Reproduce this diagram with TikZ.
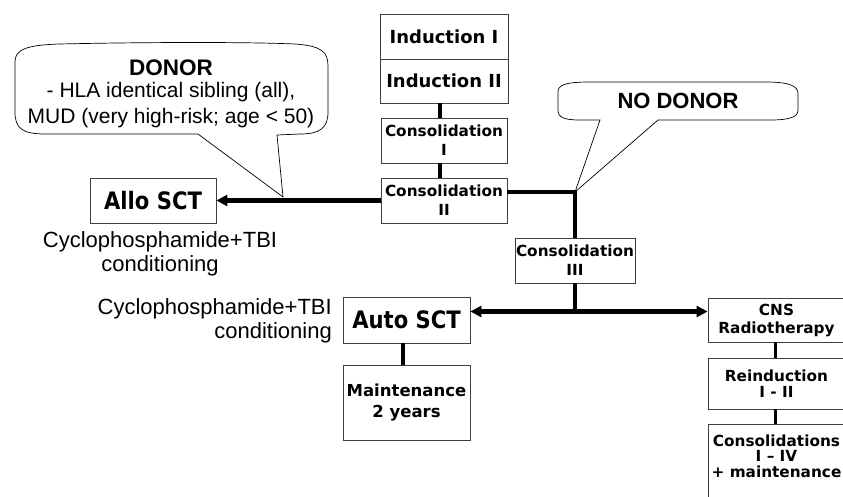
\documentclass[tikz,border=0pt]{standalone}
\usepackage{fontspec}
\setmainfont{Liberation Sans}
\newfontfamily\boxfont{DejaVu Sans}
\newfontfamily\boxcond{DejaVu Sans}[FakeStretch=0.88]
\usetikzlibrary{arrows.meta}
\begin{document}
\begin{tikzpicture}[x=1pt,y=-1pt,
  stage/.style={draw=black!75, line width=0.8pt, fill=white, inner sep=0pt, align=center,
    font=\boxfont\bfseries\fontsize{15.3}{19}\selectfont},
  link/.style={line width=4.5pt},
  thinlink/.style={line width=3pt},
  arr/.style={line width=4.5pt, -{Triangle[length=11pt,width=11pt]}},
  callout/.style={draw=black, line width=0.7pt, fill=white},
  note/.style={inner sep=0pt, font=\fontsize{22}{24}\selectfont}
]
\useasboundingbox (0,0) rectangle (843,497);
\fill[white] (0,0) rectangle (843,497);

% callouts
\draw[callout] (198,134) -- (45,134) .. controls (22,134) and (15,128) .. (15,112)
  -- (15,62) .. controls (15,50) and (25,45) .. (60,44)
  .. controls (150,42) and (250,42) .. (295,44)
  .. controls (322,46) and (328,52) .. (328,66)
  -- (328,112) .. controls (328,128) and (320,134) .. (300,134)
  -- (277,135) -- (283,197) -- cycle;
\node[inner sep=0pt, align=center, anchor=north, font=\fontsize{21}{26}\selectfont] (donortext) at (171,60)
  {{\fontsize{22.5}{24}\selectfont\bfseries DONOR}\\[-4pt]- HLA identical sibling (all),\\MUD (very high-risk; age < 50)};

\draw[callout] (600,120) -- (580,120) .. controls (563,120) and (558,117) .. (558,110)
  -- (558,92) .. controls (558,85) and (565,82) .. (590,82)
  -- (765,82) .. controls (790,82) and (798,86) .. (798,94)
  -- (798,110) .. controls (798,117) and (790,120) .. (770,120)
  -- (658,120) -- (575,192) -- cycle;
\node[inner sep=0pt, font=\fontsize{22}{24}\selectfont\bfseries] (nodonortext) at (678,101) {NO DONOR};

% stages
\node[stage, minimum width=128, minimum height=45, font=\boxfont\bfseries\fontsize{18}{20}\selectfont] (ind1) at (444,36.5) {Induction I};
\node[stage, minimum width=128, minimum height=44, font=\boxfont\bfseries\fontsize{18}{20}\selectfont] (ind2) at (444,81) {Induction II};
\node[stage, minimum width=126, minimum height=45] (cons1) at (444,140.5) {Consolidation\\I};
\node[stage, minimum width=126, minimum height=45] (cons2) at (444,200.5) {Consolidation\\II};
\node[stage, minimum width=120, minimum height=45] (cons3) at (575,260.5) {Consolidation\\III};
\node[stage, minimum width=126, minimum height=45, font=\boxcond\bfseries\fontsize{24}{26}\selectfont] (allo) at (153,200.5) {Allo SCT};
\node[stage, minimum width=127, minimum height=46, font=\boxcond\bfseries\fontsize{24}{26}\selectfont] (auto) at (406.5,320) {Auto SCT};
\node[stage, minimum width=127, minimum height=75, font=\boxfont\bfseries\fontsize{16.5}{21}\selectfont] (maint) at (406.5,402.5) {Maintenance\\2 years};
\node[stage, minimum width=137, minimum height=44, font=\boxfont\bfseries\fontsize{15.3}{18}\selectfont] (cns) at (776.5,320) {CNS\\Radiotherapy};
\node[stage, minimum width=137, minimum height=51, font=\boxfont\bfseries\fontsize{15.3}{16.5}\selectfont] (reind) at (776.5,383.5) {Reinduction\\I - II};
\node[stage, minimum width=137, minimum height=76, font=\boxfont\bfseries\fontsize{15.3}{15.5}\selectfont] (consol) at (776.5,462) {Consolidations\\I – IV\\+ maintenance\rule[-12pt]{0pt}{12pt}};

% side notes
\node[note, align=center, anchor=north] (allonote) at (160,231) {Cyclophosphamide+TBI\\conditioning};
\node[note, align=right, anchor=north east] (autonote) at (332,298) {Cyclophosphamide+TBI\\conditioning};

% connectors
\coordinate (j2) at (575,311.5);
\draw[link] ([xshift=-4pt]ind2.south) -- ([xshift=-4pt]cons1.north);
\draw[link] ([xshift=-4pt]cons1.south) -- ([xshift=-4pt]cons2.north);
\draw[link] ([yshift=8.5pt]cons2.east) -| (cons3.north);
\draw[arr] (cons2.west) -- (allo.east);
\draw[link] (cons3.south) -- (j2);
\draw[arr] (j2) -- (auto.east |- j2);
\draw[arr] (j2) -- (cns.west |- j2);
\draw[link] ([xshift=-3.5pt]auto.south) -- ([xshift=-3.5pt]maint.north);
\draw[thinlink] ([xshift=-1.5pt]cns.south) -- ([xshift=-1.5pt]reind.north);
\draw[thinlink] ([xshift=-1.5pt]reind.south) -- ([xshift=-1.5pt]consol.north);
\end{tikzpicture}
\end{document}
